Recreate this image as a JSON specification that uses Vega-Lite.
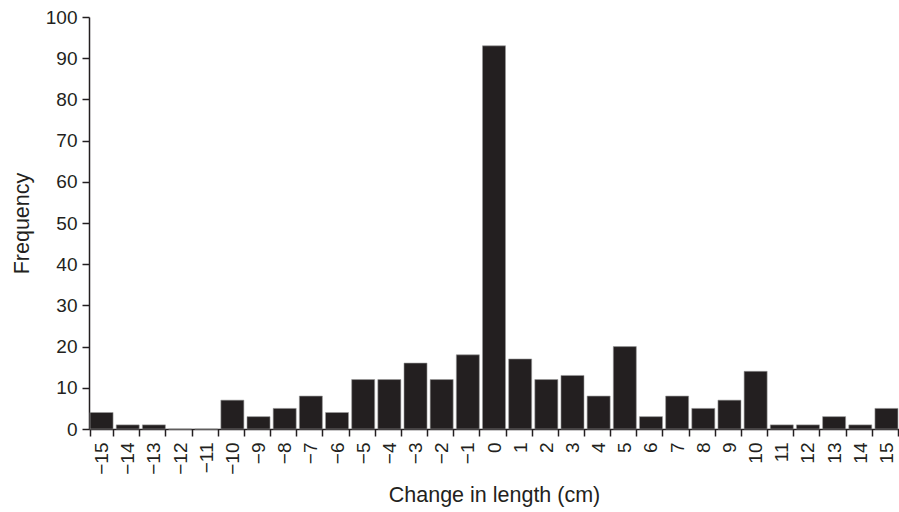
{
  "$schema": "https://vega.github.io/schema/vega-lite/v6.json",
  "width": 810,
  "height": 412,
  "autosize": {"type": "none"},
  "padding": {"left": 89, "top": 17, "right": 0, "bottom": 83},
  "background": "white",
  "config": {
    "view": {"stroke": null},
    "font": "Liberation Sans",
    "axis": {
      "labelFont": "Liberation Sans",
      "titleFont": "Liberation Sans",
      "labelColor": "#231f20",
      "titleColor": "#231f20",
      "domainColor": "#231f20",
      "tickColor": "#231f20",
      "labelFontSize": 19,
      "titleFontSize": 21.5,
      "titleFontWeight": "normal",
      "grid": false,
      "domainWidth": 1.5,
      "tickWidth": 1.5
    }
  },
  "data": {
    "values": [
      {"change": -15, "freq": 4},
      {"change": -14, "freq": 1},
      {"change": -13, "freq": 1},
      {"change": -12, "freq": 0},
      {"change": -11, "freq": 0},
      {"change": -10, "freq": 7},
      {"change": -9, "freq": 3},
      {"change": -8, "freq": 5},
      {"change": -7, "freq": 8},
      {"change": -6, "freq": 4},
      {"change": -5, "freq": 12},
      {"change": -4, "freq": 12},
      {"change": -3, "freq": 16},
      {"change": -2, "freq": 12},
      {"change": -1, "freq": 18},
      {"change": 0, "freq": 93},
      {"change": 1, "freq": 17},
      {"change": 2, "freq": 12},
      {"change": 3, "freq": 13},
      {"change": 4, "freq": 8},
      {"change": 5, "freq": 20},
      {"change": 6, "freq": 3},
      {"change": 7, "freq": 8},
      {"change": 8, "freq": 5},
      {"change": 9, "freq": 7},
      {"change": 10, "freq": 14},
      {"change": 11, "freq": 1},
      {"change": 12, "freq": 1},
      {"change": 13, "freq": 3},
      {"change": 14, "freq": 1},
      {"change": 15, "freq": 5}
    ]
  },
  "mark": {"type": "bar", "color": "#231f20", "stroke": "#9a9a9a", "strokeWidth": 0.6},
  "encoding": {
    "x": {
      "field": "change",
      "type": "ordinal",
      "sort": "ascending",
      "scale": {"paddingInner": 0.12, "paddingOuter": 0.04},
      "axis": {
        "title": "Change in length (cm)",
        "labelAngle": -90,
        "labelAlign": "right",
        "labelBaseline": "middle",
        "labelPadding": 6,
        "tickBand": "extent",
        "tickSize": 7,
        "titlePadding": 10,
        "labelExpr": "replace(datum.label, '-', '\u2212')"
      }
    },
    "y": {
      "field": "freq",
      "type": "quantitative",
      "scale": {"domain": [0, 100], "nice": false},
      "axis": {
        "title": "Frequency",
        "values": [0, 10, 20, 30, 40, 50, 60, 70, 80, 90, 100],
        "tickSize": 7,
        "labelPadding": 5,
        "titlePadding": 12
      }
    }
  }
}
